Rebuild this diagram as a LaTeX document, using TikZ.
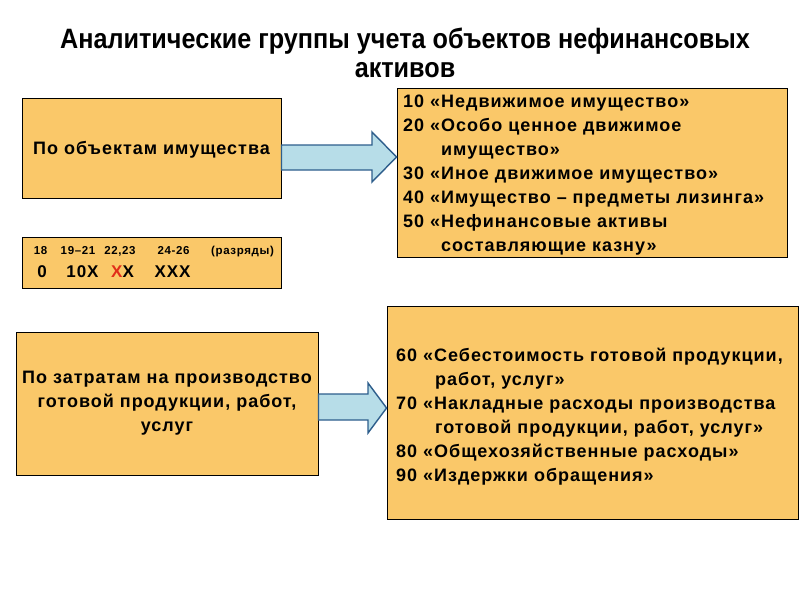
\documentclass[tikz,border=0pt]{standalone}
\usepackage{fontspec}
\setmainfont{Liberation Sans}
\newfontfamily\titlefont[FakeStretch=0.9]{Liberation Sans}
\newfontfamily\spacedfont[LetterSpace=5.5]{Liberation Sans}
\definecolor{boxfill}{RGB}{250,200,105}
\definecolor{arrowfill}{RGB}{183,221,232}
\definecolor{arrowline}{RGB}{46,94,140}
\definecolor{redx}{RGB}{225,45,25}
\tikzset{
  box/.style={draw=black, fill=boxfill, line width=0.9pt, inner sep=0pt},
  blockarrow/.style={draw=arrowline, fill=arrowfill, line width=1.4pt, line join=miter},
  item/.style={font=\spacedfont\bfseries\fontsize{18}{20}\selectfont, anchor=base west, inner sep=0pt},
  titletext/.style={font=\titlefont\bfseries\fontsize{28}{30}\selectfont, anchor=base, inner sep=0pt},
}
\begin{document}
\begin{tikzpicture}[x=1pt,y=-1pt]
\useasboundingbox[fill=white] (0,0) rectangle (800,600);

% title
\node[titletext] (title1) at (405,48) {Аналитические группы учета объектов нефинансовых};
\node[titletext] (title2) at (405,77) {активов};

% boxes
\node[box, minimum width=259pt, minimum height=100pt] (b1) at (151.5,148) {};
\node[font=\spacedfont\bfseries\fontsize{18}{20}\selectfont, anchor=base, inner sep=0pt] (t1) at (151.5,154) {По объектам имущества};

\node[box, minimum width=259pt, minimum height=51pt] (b3) at (151.5,262.5) {};
\node[box, minimum width=390pt, minimum height=169pt] (b2) at (592,172.5) {};
\node[box, minimum width=302pt, minimum height=143pt] (b4) at (167,403.5) {};
\node[box, minimum width=411pt, minimum height=213pt] (b5) at (592.5,412.5) {};

% arrows
\draw[blockarrow] (b1.east |- 0,145) -- (372,145) -- (372,132) -- (b2.west |- 0,157) -- (372,182) -- (372,170) -- (b1.east |- 0,170) -- cycle;
\draw[blockarrow] (b4.east |- 0,394) -- (368,394) -- (368,383) -- (b5.west |- 0,408) -- (368,433) -- (368,420) -- (b4.east |- 0,420) -- cycle;

% small box contents
\begin{scope}[every node/.style={font=\spacedfont\bfseries\fontsize{11.5}{13}\selectfont, anchor=base, inner sep=0pt}]
\node (r1) at (40.5,254) {18};
\node (r2) at (78,254) {19–21};
\node (r3) at (120,254) {22,23};
\node (r4) at (173.5,254) {24-26};
\node (r5) at (242.5,254) {(разряды)};
\end{scope}
\begin{scope}[every node/.style={font=\spacedfont\bfseries\fontsize{17}{20}\selectfont, anchor=base, inner sep=0pt}]
\node (d1) at (42,277) {0};
\node (d2) at (82.5,277) {10X};
\node (d3) at (122.5,277) {{\color{redx}X}X};
\node (d4) at (172.5,277) {XXX};
\end{scope}

% right top box text
\node[item] (a1) at (403,107) {10 «Недвижимое имущество»};
\node[item] (a2) at (403,131) {20 «Особо ценное движимое};
\node[item] (a3) at (441,155) {имущество»};
\node[item] (a4) at (403,179) {30 «Иное движимое имущество»};
\node[item] (a5) at (403,203) {40 «Имущество – предметы лизинга»};
\node[item] (a6) at (403,227) {50 «Нефинансовые активы};
\node[item] (a7) at (441,251) {составляющие казну»};

% left bottom box text
\node[font=\spacedfont\bfseries\fontsize{18}{24}\selectfont, align=center, inner sep=0pt] (t4) at (b4.center) {По затратам на производство\\готовой продукции, работ,\\услуг};

% right bottom box text
\node[item] (c1) at (396,361) {60 «Себестоимость готовой продукции,};
\node[item] (c2) at (435,385) {работ, услуг»};
\node[item] (c3) at (396,409) {70 «Накладные расходы производства};
\node[item] (c4) at (435,433) {готовой продукции, работ, услуг»};
\node[item] (c5) at (396,457) {80 «Общехозяйственные расходы»};
\node[item] (c6) at (396,481) {90 «Издержки обращения»};
\end{tikzpicture}
\end{document}
